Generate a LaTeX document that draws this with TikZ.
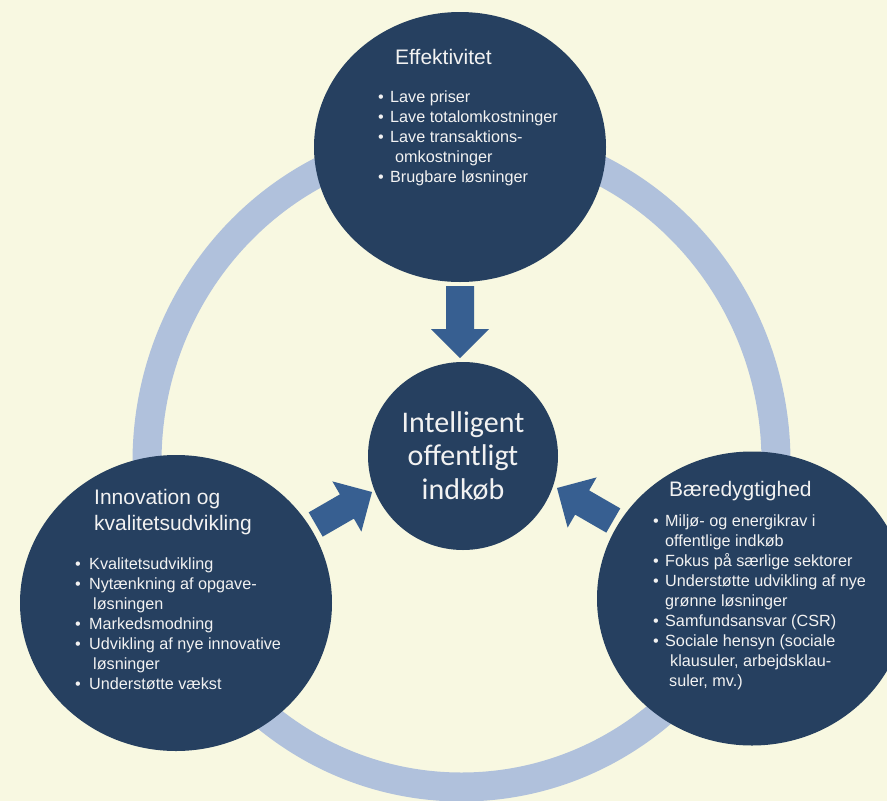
\documentclass[tikz,border=0pt]{standalone}
\usepackage{fontspec}
\setmainfont{Liberation Sans}
\newfontfamily\calfont{Carlito}
\usetikzlibrary{shapes.geometric}
\definecolor{bg}{HTML}{F8F8E1}
\definecolor{navy}{HTML}{264060}
\definecolor{ringc}{HTML}{B0C1DC}
\definecolor{arrc}{HTML}{375F91}
\definecolor{txt}{HTML}{F2F2F2}
\newcommand\bul[1]{\makebox[#1][l]{•}}
\newcommand\blockarr[3]{%
  \fill[blockarrow, shift={(#1)}, rotate=#2] (0,0) -- (-29,29) -- (-29,14) -- (-#3,14) -- (-#3,-14) -- (-29,-14) -- (-29,-29) -- cycle;}
\begin{document}
\begin{tikzpicture}[x=1pt,y=1pt,
  bubble/.style={ellipse, fill=navy, draw=none, inner sep=0},
  blockarrow/.style={fill=arrc, draw=none},
  ttl/.style={anchor=base west, inner sep=0, text=txt},
  lst/.style={anchor=base west, inner sep=0, text=txt},
]
\useasboundingbox (0,0) rectangle (887,-801);
\fill[bg] (0,0) rectangle (887,-801);
% ring
\draw[ringc, line width=29] (461.5,-462) ellipse [x radius=314.5, y radius=325];
% bubbles
\node[bubble, minimum width=292, minimum height=270] (eff) at (460,-147) {};
\node[bubble, minimum width=312, minimum height=296] (inn) at (176,-603) {};
\node[bubble, minimum width=310, minimum height=294] (bae) at (752,-598.5) {};
\node[bubble, minimum width=190, minimum height=188] (ctr) at (463,-456) {};
% arrows
\coordinate (tipT) at (460,-358);
\coordinate (tipL) at (372,-492);
\coordinate (tipR) at (557,-488);
\blockarr{tipT}{-90}{72}
\blockarr{tipL}{30}{65}
\blockarr{tipR}{150}{65}
% center text
\node[anchor=base, inner sep=0, text=txt] (ctrT) at (463,-432) {\begin{minipage}[t]{190pt}\centering\calfont\fontsize{30}{33.5}\selectfont Intelligent\\ offentligt\\ indkøb\end{minipage}};
% top
\node[ttl] (effT) at (395,-64) {\fontsize{21}{26}\selectfont Effektivitet};
\node[lst] (effL) at (378,-102.7) {\begin{minipage}[t]{220pt}\fontsize{16.2}{20}\selectfont
\bul{12pt}Lave priser\\
\bul{12pt}Lave totalomkostninger\\
\bul{12pt}Lave transaktions-\\
\hspace*{17pt}omkostninger\\
\bul{12pt}Brugbare løsninger
\end{minipage}};
% left
\node[ttl] (innT) at (94,-504) {\begin{minipage}[t]{220pt}\fontsize{21}{26}\selectfont
Innovation og\\
kvalitetsudvikling
\end{minipage}};
\node[lst] (innL) at (75,-569) {\begin{minipage}[t]{240pt}\fontsize{16.2}{20}\selectfont
\bul{14pt}Kvalitetsudvikling\\
\bul{14pt}Nytænkning af opgave-\\
\hspace*{18pt}løsningen\\
\bul{14pt}Markedsmodning\\
\bul{14pt}Udvikling af nye innovative\\
\hspace*{18pt}løsninger\\
\bul{14pt}Understøtte vækst
\end{minipage}};
% right
\node[ttl] (baeT) at (669,-496) {\fontsize{21}{26}\selectfont Bæredygtighed};
\node[lst] (baeL) at (653,-526.7) {\begin{minipage}[t]{240pt}\fontsize{16.2}{20}\selectfont
\bul{12pt}Miljø- og energikrav i\\
\hspace*{12pt}offentlige indkøb\\
\bul{12pt}Fokus på særlige sektorer\\
\bul{12pt}Understøtte udvikling af nye\\
\hspace*{12pt}grønne løsninger\\
\bul{12pt}Samfundsansvar (CSR)\\
\bul{12pt}Sociale hensyn (sociale\\
\hspace*{17pt}klausuler, arbejdsklau-\\
\hspace*{16pt}suler, mv.)
\end{minipage}};
\end{tikzpicture}
\end{document}
